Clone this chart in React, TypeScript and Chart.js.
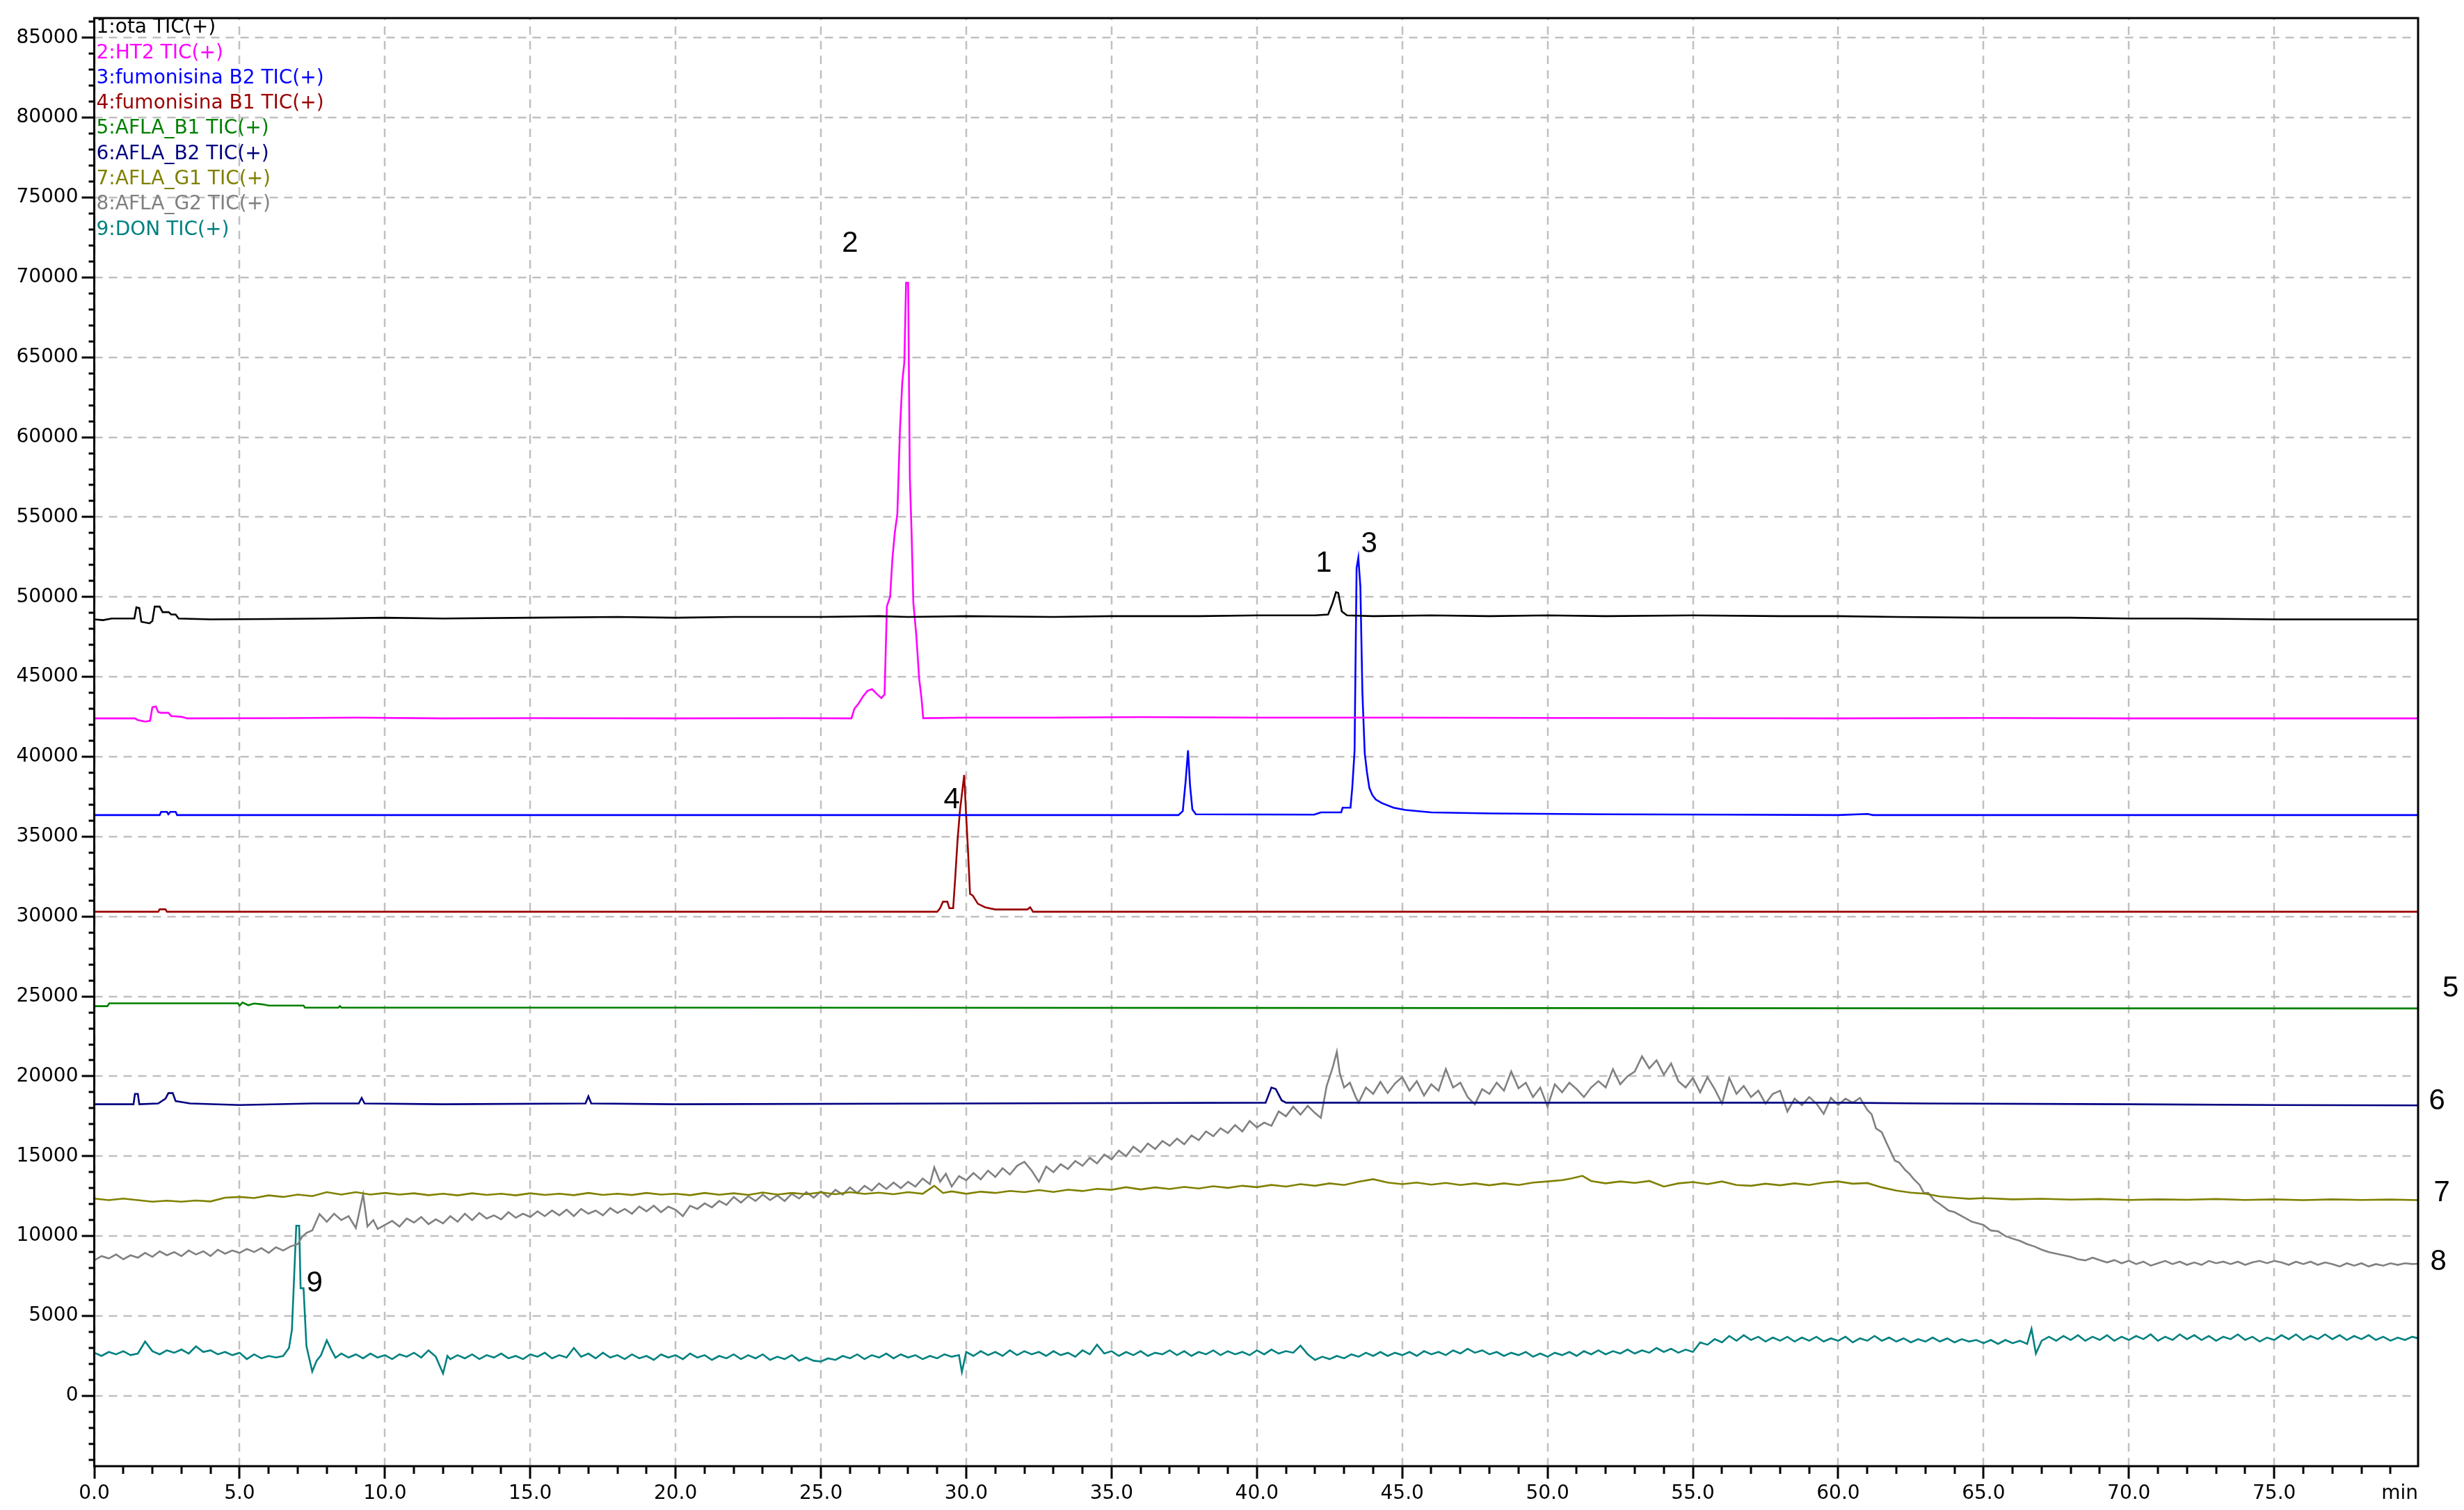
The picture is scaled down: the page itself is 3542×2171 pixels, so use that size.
import React, { useEffect, useRef } from 'react';
import { Chart, registerables } from 'chart.js';

Chart.register(...registerables);

const W = 3542;
const H = 2171;

// Axis ranges (minutes / intensity)
const X_MIN = 0;
const X_MAX = 79.95;
const Y_MIN = -4400;
const Y_MAX = 86230;

// Tick labels
const X_TICKS = [0, 5, 10, 15, 20, 25, 30, 35, 40, 45, 50, 55, 60, 65, 70, 75];
const Y_TICKS = [0, 5000, 10000, 15000, 20000, 25000, 30000, 35000, 40000, 45000, 50000, 55000, 60000, 65000, 70000, 75000, 80000, 85000];
const X_UNIT = 'min';

// Series names and colours
const SERIES_LABELS = [
  '1:ota TIC(+)',
  '2:HT2 TIC(+)',
  '3:fumonisina B2 TIC(+)',
  '4:fumonisina B1 TIC(+)',
  '5:AFLA_B1 TIC(+)',
  '6:AFLA_B2 TIC(+)',
  '7:AFLA_G1 TIC(+)',
  '8:AFLA_G2 TIC(+)',
  '9:DON TIC(+)',
];
const SERIES_COLORS = ['#000000', '#ff00ff', '#0000ff', '#9a0000', '#008000', '#000080', '#808000', '#808080', '#008080'];

// Traces: [time (min), intensity]
const otaTrace: [number, number][] = [
  [0, 48600], [0.3, 48550], [0.6, 48650], [1.38, 48650], [1.45, 49350], [1.55, 49300], [1.62, 48450], [1.9, 48350],
  [2.0, 48500], [2.08, 49400], [2.25, 49400], [2.35, 49050], [2.56, 49050], [2.65, 48900], [2.8, 48900], [2.9, 48650],
  [4, 48600], [6, 48620], [8, 48650], [10, 48700], [12, 48650], [15, 48700], [18, 48750], [20, 48700], [22, 48750],
  [25, 48750], [27, 48800], [28, 48750], [30, 48800], [33, 48750], [35, 48800], [38, 48800], [40, 48850], [42, 48850],
  [42.45, 48900], [42.6, 49600], [42.72, 50300], [42.8, 50250], [42.92, 49100], [43.1, 48850], [44, 48800], [46, 48850],
  [48, 48800], [50, 48850], [52, 48800], [55, 48850], [58, 48800], [60, 48800], [62, 48750], [65, 48700], [68, 48700],
  [70, 48650], [72, 48650], [75, 48600], [78, 48600], [79.95, 48600],
];

const ht2Trace: [number, number][] = [
  [0, 42400], [1.4, 42400], [1.5, 42300], [1.75, 42200], [1.92, 42250], [2.0, 43100], [2.12, 43150], [2.2, 42800],
  [2.3, 42750], [2.55, 42750], [2.65, 42550], [3.0, 42500], [3.2, 42400], [6.5, 42420], [9.0, 42450], [12, 42400],
  [15, 42420], [20, 42400], [24, 42420], [26.05, 42400], [26.15, 43000], [26.3, 43340], [26.45, 43780], [26.6, 44120],
  [26.76, 44230], [26.94, 43900], [27.08, 43670], [27.19, 43900], [27.27, 49420], [27.38, 50000], [27.46, 52400],
  [27.54, 54000], [27.63, 55200], [27.72, 60490], [27.8, 63470], [27.87, 64690], [27.93, 69670], [28.0, 69670],
  [28.06, 57460], [28.12, 54000], [28.18, 49650], [28.28, 47650], [28.38, 44890], [28.46, 43670], [28.52, 42410],
  [30, 42450], [33, 42450], [36, 42480], [40, 42450], [45, 42450], [50, 42430], [55, 42420], [60, 42400], [65, 42430],
  [70, 42400], [75, 42400], [79.95, 42400],
];

const fumB2Trace: [number, number][] = [
  [0, 36350], [2.25, 36350], [2.3, 36550], [2.5, 36550], [2.55, 36400], [2.62, 36550], [2.8, 36550], [2.85, 36350],
  [10, 36350], [20, 36350], [30, 36350], [37.3, 36350], [37.45, 36600], [37.55, 38500], [37.63, 40400], [37.7, 38200],
  [37.78, 36700], [37.9, 36400], [41.97, 36380], [42.2, 36520], [42.9, 36520], [42.95, 36810], [43.22, 36810],
  [43.28, 38040], [43.36, 40360], [43.43, 51810], [43.49, 52460], [43.56, 50650], [43.63, 43980], [43.71, 40220],
  [43.79, 38990], [43.87, 38040], [43.97, 37610], [44.09, 37320], [44.3, 37100], [44.7, 36810], [45.1, 36670],
  [46, 36520], [48, 36450], [52, 36400], [56, 36380], [60, 36350], [61, 36420], [61.2, 36350], [70, 36350], [79.95, 36350],
];

const fumB1Trace: [number, number][] = [
  [0, 30300], [2.2, 30300], [2.25, 30450], [2.45, 30450], [2.5, 30300], [29.0, 30300], [29.1, 30520], [29.2, 30930],
  [29.35, 30930], [29.42, 30520], [29.55, 30520], [29.62, 32400], [29.7, 34750], [29.78, 36560], [29.86, 37800],
  [29.93, 38860], [29.99, 36560], [30.06, 34170], [30.13, 31420], [30.23, 31300], [30.4, 30800], [30.65, 30580],
  [31, 30440], [32.1, 30440], [32.2, 30580], [32.3, 30300], [79.95, 30300],
];

const aflaB1Trace: [number, number][] = [
  [0, 24390], [0.45, 24390], [0.52, 24570], [4.95, 24570], [5.0, 24420], [5.1, 24620], [5.3, 24450], [5.5, 24560],
  [5.8, 24500], [6.0, 24430], [7.2, 24430], [7.25, 24300], [8.4, 24300], [8.45, 24400], [8.5, 24300], [20, 24300],
  [40, 24280], [60, 24260], [79.95, 24250],
];

const aflaB2Trace: [number, number][] = [
  [0, 18250], [1.35, 18250], [1.4, 18900], [1.5, 18900], [1.55, 18250], [2.2, 18300], [2.45, 18600], [2.55, 18950],
  [2.7, 18950], [2.8, 18450], [3.3, 18300], [5, 18200], [7.5, 18300], [9.1, 18300], [9.2, 18650], [9.3, 18300],
  [12, 18250], [16.9, 18300], [17.0, 18750], [17.1, 18300], [20, 18250], [30, 18300], [40.3, 18350], [40.5, 19300],
  [40.65, 19200], [40.85, 18500], [41, 18350], [50, 18350], [60, 18350], [63, 18300], [70, 18250], [75, 18200], [79.95, 18180],
];

const aflaG1Trace: [number, number][] = [
  [0, 12350], [0.5, 12250], [1.0, 12350], [1.5, 12250], [2.0, 12150], [2.5, 12220], [3.0, 12150], [3.5, 12230],
  [4.0, 12170], [4.5, 12400], [5.0, 12450], [5.5, 12380], [6.0, 12550], [6.5, 12450], [7.0, 12600], [7.5, 12500],
  [8.0, 12750], [8.5, 12600], [9.0, 12750], [9.5, 12600], [10.0, 12700], [10.5, 12600], [11.0, 12680], [11.5, 12560],
  [12.0, 12650], [12.5, 12550], [13.0, 12680], [13.5, 12580], [14.0, 12650], [14.5, 12550], [15.0, 12680], [15.5, 12580],
  [16.0, 12650], [16.5, 12560], [17.0, 12700], [17.5, 12580], [18.0, 12650], [18.5, 12570], [19.0, 12700], [19.5, 12600],
  [20.0, 12650], [20.5, 12560], [21.0, 12700], [21.5, 12590], [22.0, 12680], [22.5, 12580], [23.0, 12730], [23.5, 12600],
  [24.0, 12700], [24.5, 12620], [25.0, 12740], [25.5, 12620], [26.0, 12750], [26.5, 12640], [27.0, 12720], [27.5, 12620],
  [28.0, 12750], [28.5, 12650], [28.9, 13150], [29.2, 12700], [29.5, 12800], [30.0, 12650], [30.5, 12780], [31.0, 12700],
  [31.5, 12830], [32.0, 12750], [32.5, 12880], [33.0, 12760], [33.5, 12900], [34.0, 12820], [34.5, 12960], [35.0, 12900],
  [35.5, 13060], [36.0, 12920], [36.5, 13050], [37.0, 12950], [37.5, 13080], [38.0, 12980], [38.5, 13120], [39.0, 13020],
  [39.5, 13150], [40.0, 13060], [40.5, 13200], [41.0, 13100], [41.5, 13250], [42.0, 13150], [42.5, 13300], [43.0, 13200],
  [43.5, 13400], [44.0, 13560], [44.5, 13350], [45.0, 13250], [45.5, 13350], [46.0, 13220], [46.5, 13330], [47.0, 13200],
  [47.5, 13300], [48.0, 13180], [48.5, 13300], [49.0, 13200], [49.5, 13350], [50.0, 13420], [50.5, 13500], [50.8, 13600],
  [51.2, 13770], [51.5, 13450], [52.0, 13300], [52.5, 13420], [53.0, 13330], [53.5, 13450], [54.0, 13100], [54.5, 13300],
  [55.0, 13380], [55.5, 13250], [56.0, 13420], [56.5, 13200], [57.0, 13150], [57.5, 13280], [58.0, 13180], [58.5, 13300],
  [59.0, 13200], [59.5, 13350], [60.0, 13420], [60.5, 13280], [61.0, 13320], [61.5, 13050], [62.0, 12850], [62.5, 12720],
  [63.0, 12650], [63.5, 12480], [64.0, 12400], [64.5, 12330], [65.0, 12380], [66, 12300], [67, 12340], [68, 12280],
  [69, 12320], [70, 12260], [71, 12300], [72, 12270], [73, 12320], [74, 12260], [75, 12300], [76, 12250], [77, 12300],
  [78, 12260], [79, 12290], [79.95, 12250],
];

const aflaG2Trace: [number, number][] = [
  [0, 8480], [0.25, 8750], [0.5, 8600], [0.75, 8850], [1.0, 8550], [1.25, 8800], [1.5, 8650], [1.75, 8950], [2.0, 8700],
  [2.25, 9050], [2.5, 8800], [2.75, 9000], [3.0, 8750], [3.25, 9100], [3.5, 8850], [3.75, 9050], [4.0, 8750], [4.25, 9150],
  [4.5, 8900], [4.75, 9100], [5.0, 8950], [5.25, 9200], [5.5, 9000], [5.75, 9250], [6.0, 8950], [6.25, 9300], [6.5, 9100],
  [6.75, 9350], [7.0, 9500], [7.15, 9950], [7.3, 10200], [7.5, 10360], [7.75, 11380], [8.0, 10900], [8.25, 11400],
  [8.5, 11000], [8.75, 11250], [9.0, 10510], [9.25, 12600], [9.4, 10600], [9.6, 11000], [9.75, 10450], [10.0, 10700],
  [10.25, 10950], [10.5, 10600], [10.75, 11100], [11.0, 10850], [11.25, 11200], [11.5, 10750], [11.75, 11050], [12.0, 10800],
  [12.25, 11250], [12.5, 10900], [12.75, 11400], [13.0, 11000], [13.25, 11450], [13.5, 11100], [13.75, 11300], [14.0, 11050],
  [14.25, 11500], [14.5, 11150], [14.75, 11400], [15.0, 11200], [15.25, 11550], [15.5, 11250], [15.75, 11600], [16.0, 11300],
  [16.25, 11650], [16.5, 11250], [16.75, 11700], [17.0, 11400], [17.25, 11600], [17.5, 11300], [17.75, 11750], [18.0, 11450],
  [18.25, 11700], [18.5, 11400], [18.75, 11850], [19.0, 11550], [19.25, 11900], [19.5, 11500], [19.75, 11850], [20.0, 11650],
  [20.25, 11250], [20.5, 11900], [20.75, 11700], [21.0, 12050], [21.25, 11800], [21.5, 12200], [21.75, 11950], [22.0, 12450],
  [22.25, 12100], [22.5, 12500], [22.75, 12200], [23.0, 12600], [23.25, 12250], [23.5, 12550], [23.75, 12200], [24.0, 12650],
  [24.25, 12350], [24.5, 12750], [24.75, 12400], [25.0, 12800], [25.25, 12450], [25.5, 12900], [25.75, 12600], [26.0, 13050],
  [26.25, 12700], [26.5, 13150], [26.75, 12850], [27.0, 13300], [27.25, 12950], [27.5, 13350], [27.75, 13000], [28.0, 13400],
  [28.25, 13100], [28.5, 13600], [28.75, 13250], [28.9, 14300], [29.1, 13400], [29.3, 13900], [29.5, 13100], [29.75, 13750],
  [30.0, 13500], [30.25, 13950], [30.5, 13550], [30.75, 14100], [31.0, 13700], [31.25, 14250], [31.5, 13850], [31.75, 14400],
  [32.0, 14650], [32.25, 14100], [32.5, 13400], [32.75, 14350], [33.0, 14000], [33.25, 14500], [33.5, 14200], [33.75, 14700],
  [34.0, 14400], [34.25, 14900], [34.5, 14550], [34.75, 15100], [35.0, 14800], [35.25, 15350], [35.5, 15000], [35.75, 15600],
  [36.0, 15250], [36.25, 15800], [36.5, 15450], [36.75, 15950], [37.0, 15650], [37.25, 16100], [37.5, 15750], [37.75, 16300],
  [38.0, 16000], [38.25, 16550], [38.5, 16250], [38.75, 16750], [39.0, 16450], [39.25, 16950], [39.5, 16550], [39.75, 17200],
  [40.0, 16800], [40.25, 17100], [40.5, 16900], [40.75, 17800], [41.0, 17500], [41.25, 18100], [41.5, 17600], [41.75, 18150],
  [42.0, 17700], [42.2, 17400], [42.4, 19400], [42.6, 20500], [42.75, 21540], [42.85, 20200], [43.0, 19300], [43.2, 19600],
  [43.4, 18700], [43.5, 18350], [43.75, 19300], [44.0, 18900], [44.25, 19650], [44.5, 18950], [44.75, 19550], [45.0, 19950],
  [45.25, 19100], [45.5, 19700], [45.75, 18800], [46.0, 19500], [46.25, 19100], [46.5, 20450], [46.75, 19300], [47.0, 19600],
  [47.25, 18700], [47.5, 18250], [47.75, 19200], [48.0, 18900], [48.25, 19600], [48.5, 19100], [48.75, 20300], [49.0, 19250],
  [49.25, 19600], [49.5, 18700], [49.75, 19300], [50.0, 18100], [50.25, 19500], [50.5, 19000], [50.75, 19600], [51.0, 19200],
  [51.25, 18700], [51.5, 19300], [51.75, 19700], [52.0, 19300], [52.25, 20450], [52.5, 19500], [52.75, 20000], [53.0, 20300],
  [53.25, 21250], [53.5, 20500], [53.75, 21000], [54.0, 20100], [54.25, 20800], [54.5, 19700], [54.75, 19300], [55.0, 19900],
  [55.25, 19000], [55.5, 19950], [55.75, 19200], [56.0, 18300], [56.25, 19900], [56.5, 18900], [56.75, 19400], [57.0, 18700],
  [57.25, 19100], [57.5, 18300], [57.75, 18900], [58.0, 19100], [58.25, 17800], [58.5, 18600], [58.75, 18200], [59.0, 18700],
  [59.25, 18300], [59.5, 17650], [59.75, 18650], [60.0, 18200], [60.25, 18600], [60.5, 18350], [60.75, 18650], [61.0, 17900],
  [61.15, 17620], [61.3, 16740], [61.5, 16500], [61.65, 15880], [61.8, 15300], [61.95, 14720], [62.1, 14600], [62.3, 14140],
  [62.45, 13900], [62.6, 13560], [62.8, 13200], [62.95, 12690], [63.1, 12700], [63.3, 12250], [63.5, 12000], [63.8, 11600],
  [64.0, 11500], [64.3, 11200], [64.6, 10900], [65.0, 10700], [65.25, 10350], [65.5, 10300], [65.75, 10000], [66.0, 9840],
  [66.25, 9700], [66.5, 9500], [66.75, 9350], [67.0, 9150], [67.25, 9000], [67.5, 8900], [67.75, 8800], [68.0, 8700],
  [68.25, 8550], [68.5, 8480], [68.75, 8650], [69.0, 8500], [69.25, 8350], [69.5, 8500], [69.75, 8300], [70.0, 8460],
  [70.25, 8250], [70.5, 8400], [70.75, 8150], [71.0, 8300], [71.25, 8450], [71.5, 8250], [71.75, 8400], [72.0, 8200],
  [72.25, 8350], [72.5, 8200], [72.75, 8450], [73.0, 8300], [73.25, 8400], [73.5, 8250], [73.75, 8400], [74.0, 8200],
  [74.25, 8350], [74.5, 8450], [74.75, 8300], [75.0, 8450], [75.25, 8350], [75.5, 8200], [75.75, 8400], [76.0, 8250],
  [76.25, 8400], [76.5, 8200], [76.75, 8350], [77.0, 8250], [77.25, 8100], [77.5, 8300], [77.75, 8150], [78.0, 8300],
  [78.25, 8100], [78.5, 8250], [78.75, 8150], [79.0, 8300], [79.25, 8200], [79.5, 8300], [79.75, 8250], [79.95, 8270],
];

const donTrace: [number, number][] = [
  [0, 2700], [0.25, 2500], [0.5, 2750], [0.75, 2600], [1.0, 2800], [1.25, 2550], [1.5, 2650], [1.75, 3400], [2.0, 2800],
  [2.25, 2600], [2.5, 2850], [2.75, 2700], [3.0, 2900], [3.25, 2650], [3.5, 3100], [3.75, 2750], [4.0, 2850], [4.25, 2600],
  [4.5, 2750], [4.75, 2550], [5.0, 2700], [5.25, 2300], [5.5, 2600], [5.75, 2350], [6.0, 2500], [6.25, 2400], [6.5, 2500],
  [6.7, 3000], [6.8, 4130], [6.95, 10650], [7.05, 10650], [7.1, 6740], [7.2, 6740], [7.3, 3120], [7.5, 1520], [7.65, 2200],
  [7.8, 2540], [8.0, 3480], [8.15, 2900], [8.3, 2390], [8.5, 2650], [8.75, 2400], [9.0, 2600], [9.25, 2350], [9.5, 2650],
  [9.75, 2400], [10.0, 2550], [10.25, 2300], [10.5, 2600], [10.75, 2450], [11.0, 2700], [11.25, 2400], [11.5, 2850],
  [11.75, 2450], [12.0, 1400], [12.15, 2500], [12.25, 2300], [12.5, 2550], [12.75, 2350], [13.0, 2600], [13.25, 2300],
  [13.5, 2550], [13.75, 2400], [14.0, 2650], [14.25, 2350], [14.5, 2500], [14.75, 2300], [15.0, 2600], [15.25, 2450],
  [15.5, 2700], [15.75, 2350], [16.0, 2550], [16.25, 2400], [16.5, 3000], [16.75, 2450], [17.0, 2650], [17.25, 2350],
  [17.5, 2700], [17.75, 2400], [18.0, 2550], [18.25, 2300], [18.5, 2600], [18.75, 2350], [19.0, 2500], [19.25, 2250],
  [19.5, 2600], [19.75, 2400], [20.0, 2550], [20.25, 2300], [20.5, 2650], [20.75, 2400], [21.0, 2550], [21.25, 2250],
  [21.5, 2500], [21.75, 2350], [22.0, 2600], [22.25, 2300], [22.5, 2550], [22.75, 2350], [23.0, 2600], [23.25, 2250],
  [23.5, 2450], [23.75, 2300], [24.0, 2550], [24.25, 2200], [24.5, 2400], [24.75, 2200], [25.0, 2150], [25.25, 2350],
  [25.5, 2250], [25.75, 2500], [26.0, 2350], [26.25, 2600], [26.5, 2300], [26.75, 2550], [27.0, 2400], [27.25, 2650],
  [27.5, 2350], [27.75, 2600], [28.0, 2400], [28.25, 2550], [28.5, 2300], [28.75, 2500], [29.0, 2350], [29.25, 2600],
  [29.5, 2450], [29.75, 2550], [29.85, 1500], [30.0, 2750], [30.25, 2500], [30.5, 2800], [30.75, 2550], [31.0, 2750],
  [31.25, 2500], [31.5, 2850], [31.75, 2550], [32.0, 2800], [32.25, 2600], [32.5, 2750], [32.75, 2500], [33.0, 2800],
  [33.25, 2550], [33.5, 2700], [33.75, 2450], [34.0, 2850], [34.25, 2600], [34.5, 3200], [34.75, 2650], [35.0, 2800],
  [35.25, 2500], [35.5, 2750], [35.75, 2550], [36.0, 2800], [36.25, 2500], [36.5, 2700], [36.75, 2600], [37.0, 2850],
  [37.25, 2550], [37.5, 2800], [37.75, 2500], [38.0, 2750], [38.25, 2600], [38.5, 2850], [38.75, 2550], [39.0, 2800],
  [39.25, 2600], [39.5, 2750], [39.75, 2550], [40.0, 2850], [40.25, 2600], [40.5, 2900], [40.75, 2650], [41.0, 2800],
  [41.25, 2700], [41.5, 3150], [41.75, 2600], [42.0, 2250], [42.25, 2450], [42.5, 2300], [42.75, 2500], [43.0, 2350],
  [43.25, 2600], [43.5, 2450], [43.75, 2700], [44.0, 2500], [44.25, 2750], [44.5, 2500], [44.75, 2700], [45.0, 2550],
  [45.25, 2750], [45.5, 2500], [45.75, 2800], [46.0, 2600], [46.25, 2750], [46.5, 2550], [46.75, 2850], [47.0, 2650],
  [47.25, 2950], [47.5, 2700], [47.75, 2850], [48.0, 2600], [48.25, 2750], [48.5, 2500], [48.75, 2700], [49.0, 2550],
  [49.25, 2750], [49.5, 2450], [49.75, 2650], [50.0, 2450], [50.25, 2700], [50.5, 2550], [50.75, 2750], [51.0, 2500],
  [51.25, 2800], [51.5, 2600], [51.75, 2850], [52.0, 2600], [52.25, 2800], [52.5, 2650], [52.75, 2900], [53.0, 2650],
  [53.25, 2850], [53.5, 2700], [53.75, 3000], [54.0, 2750], [54.25, 2950], [54.5, 2700], [54.75, 2900], [55.0, 2750],
  [55.25, 3350], [55.5, 3200], [55.75, 3550], [56.0, 3350], [56.25, 3750], [56.5, 3450], [56.75, 3800], [57.0, 3500],
  [57.25, 3700], [57.5, 3400], [57.75, 3650], [58.0, 3450], [58.25, 3700], [58.5, 3400], [58.75, 3650], [59.0, 3450],
  [59.25, 3700], [59.5, 3400], [59.75, 3600], [60.0, 3450], [60.25, 3700], [60.5, 3350], [60.75, 3600], [61.0, 3450],
  [61.25, 3750], [61.5, 3450], [61.75, 3650], [62.0, 3400], [62.25, 3600], [62.5, 3350], [62.75, 3550], [63.0, 3400],
  [63.25, 3650], [63.5, 3400], [63.75, 3600], [64.0, 3350], [64.25, 3550], [64.5, 3400], [64.75, 3500], [65.0, 3300],
  [65.25, 3500], [65.5, 3250], [65.75, 3500], [66.0, 3300], [66.25, 3450], [66.5, 3250], [66.65, 4200], [66.8, 2650],
  [67.0, 3450], [67.25, 3700], [67.5, 3450], [67.75, 3750], [68.0, 3500], [68.25, 3800], [68.5, 3450], [68.75, 3700],
  [69.0, 3500], [69.25, 3800], [69.5, 3450], [69.75, 3700], [70.0, 3500], [70.25, 3750], [70.5, 3550], [70.75, 3850],
  [71.0, 3450], [71.25, 3700], [71.5, 3500], [71.75, 3850], [72.0, 3550], [72.25, 3800], [72.5, 3500], [72.75, 3750],
  [73.0, 3450], [73.25, 3700], [73.5, 3550], [73.75, 3850], [74.0, 3500], [74.25, 3700], [74.5, 3400], [74.75, 3650],
  [75.0, 3500], [75.25, 3800], [75.5, 3550], [75.75, 3850], [76.0, 3500], [76.25, 3750], [76.5, 3550], [76.75, 3850],
  [77.0, 3550], [77.25, 3800], [77.5, 3500], [77.75, 3750], [78.0, 3550], [78.25, 3800], [78.5, 3500], [78.75, 3700],
  [79.0, 3450], [79.25, 3650], [79.5, 3500], [79.75, 3700], [79.95, 3600],
];

const TRACES = [otaTrace, ht2Trace, fumB2Trace, fumB1Trace, aflaB1Trace, aflaB2Trace, aflaG1Trace, aflaG2Trace, donTrace];

// Peak annotations: label, time, intensity (label centre)
const PEAK_LABELS = ['1', '2', '3', '4', '5', '6', '7', '8', '9'];
const PEAK_TIMES = [42.3, 26.0, 43.86, 29.5, 81.07, 80.6, 80.77, 80.65, 7.58];
const PEAK_VALUES = [52090, 72125, 53310, 37280, 25480, 18420, 12670, 8400, 7010];

const TICK_FONT = '"DejaVu Sans", sans-serif';
const GRID_COLOR = '#c0c0c0';

const decorPlugin = {
  id: 'chromDecor',
  beforeDatasetsDraw(chart: any) {
    const { ctx, chartArea: a, scales } = chart;
    const xs = scales.x;
    const ys = scales.y;
    ctx.save();
    ctx.strokeStyle = GRID_COLOR;
    ctx.lineWidth = 2.5;
    ctx.setLineDash([12, 9]);
    Y_TICKS.forEach((v) => {
      const p = Math.round(ys.getPixelForValue(v));
      ctx.beginPath();
      ctx.moveTo(a.left, p);
      ctx.lineTo(a.right, p);
      ctx.stroke();
    });
    X_TICKS.forEach((v) => {
      const p = Math.round(xs.getPixelForValue(v));
      ctx.beginPath();
      ctx.moveTo(p, a.bottom);
      ctx.lineTo(p, a.top);
      ctx.stroke();
    });
    ctx.restore();
  },
  afterDraw(chart: any) {
    const { ctx, chartArea: a, scales } = chart;
    const xs = scales.x;
    const ys = scales.y;
    ctx.save();
    ctx.setLineDash([]);
    ctx.strokeStyle = '#000';
    ctx.lineWidth = 3;
    ctx.strokeRect(a.left, a.top, a.right - a.left, a.bottom - a.top);

    // y tick marks (major every 5000, minor every 1000)
    for (let v = -4000; v <= 86000; v += 1000) {
      const p = Math.round(ys.getPixelForValue(v));
      const len = v % 5000 === 0 ? 18 : 8;
      ctx.beginPath();
      ctx.moveTo(a.left - len, p);
      ctx.lineTo(a.left, p);
      ctx.stroke();
    }
    // x tick marks (major every 5 min, minor every 1 min)
    for (let v = 0; v <= 79; v += 1) {
      const p = Math.round(xs.getPixelForValue(v));
      const len = v % 5 === 0 ? 18 : 11;
      ctx.beginPath();
      ctx.moveTo(p, a.bottom);
      ctx.lineTo(p, a.bottom + len);
      ctx.stroke();
    }

    // unit label
    ctx.font = `28px ${TICK_FONT}`;
    ctx.fillStyle = '#000';
    ctx.textAlign = 'right';
    ctx.textBaseline = 'middle';
    ctx.fillText(X_UNIT, a.right, a.bottom + 40);

    // legend (in-plot, top left)
    ctx.textAlign = 'left';
    chart.data.datasets.forEach((ds: any, i: number) => {
      ctx.fillStyle = ds.borderColor;
      ctx.fillText(ds.label, a.left + 3, a.top + 14 + i * 36.3);
    });

    // peak numbers
    ctx.font = '42px "Liberation Sans", sans-serif';
    ctx.fillStyle = '#000';
    ctx.textAlign = 'center';
    PEAK_LABELS.forEach((t, i) => {
      ctx.fillText(t, xs.getPixelForValue(PEAK_TIMES[i]), ys.getPixelForValue(PEAK_VALUES[i]));
    });
    ctx.restore();
  },
};

export default function App() {
  const ref = useRef<HTMLCanvasElement | null>(null);

  useEffect(() => {
    if (!ref.current) return;
    const datasets = TRACES.map((trace, i) => ({
      label: SERIES_LABELS[i],
      data: trace.map(([x, y]) => ({ x, y })),
      borderColor: SERIES_COLORS[i],
      backgroundColor: SERIES_COLORS[i],
      borderWidth: 2.6,
      pointRadius: 0,
      tension: 0,
      fill: false,
    }));
    const chart = new Chart(ref.current, {
      type: 'line',
      data: { datasets },
      options: {
        animation: false,
        responsive: false,
        devicePixelRatio: 1,
        parsing: false,
        normalized: true,
        layout: { padding: { top: 26, right: 66, left: 0, bottom: 0 } },
        plugins: {
          legend: { display: false },
          tooltip: { enabled: false },
        },
        scales: {
          x: {
            type: 'linear',
            min: X_MIN,
            max: X_MAX,
            afterBuildTicks: (s: any) => {
              s.ticks = X_TICKS.map((value) => ({ value }));
            },
            afterFit: (s: any) => {
              s.height = H - 2108;
            },
            ticks: {
              autoSkip: false,
              maxRotation: 0,
              padding: 5,
              color: '#000',
              font: { family: TICK_FONT, size: 28 },
              callback: (v: any) => Number(v).toFixed(1),
            },
            grid: { drawOnChartArea: false, drawTicks: true, tickLength: 18, tickColor: 'transparent' },
            border: { display: false },
          },
          y: {
            type: 'linear',
            min: Y_MIN,
            max: Y_MAX,
            afterBuildTicks: (s: any) => {
              s.ticks = Y_TICKS.map((value) => ({ value }));
            },
            afterFit: (s: any) => {
              s.width = 135.5;
            },
            ticks: {
              autoSkip: false,
              padding: 5,
              color: '#000',
              font: { family: TICK_FONT, size: 28 },
              callback: (v: any) => String(v),
            },
            grid: { drawOnChartArea: false, drawTicks: true, tickLength: 18, tickColor: 'transparent' },
            border: { display: false },
          },
        },
      } as any,
      plugins: [decorPlugin],
    });
    return () => chart.destroy();
  }, []);

  return (
    <div style={{ position: 'absolute', left: 0, top: 0, width: W, height: H, background: '#fff' }}>
      <canvas ref={ref} width={W} height={H} style={{ width: W, height: H, display: 'block' }} />
    </div>
  );
}
